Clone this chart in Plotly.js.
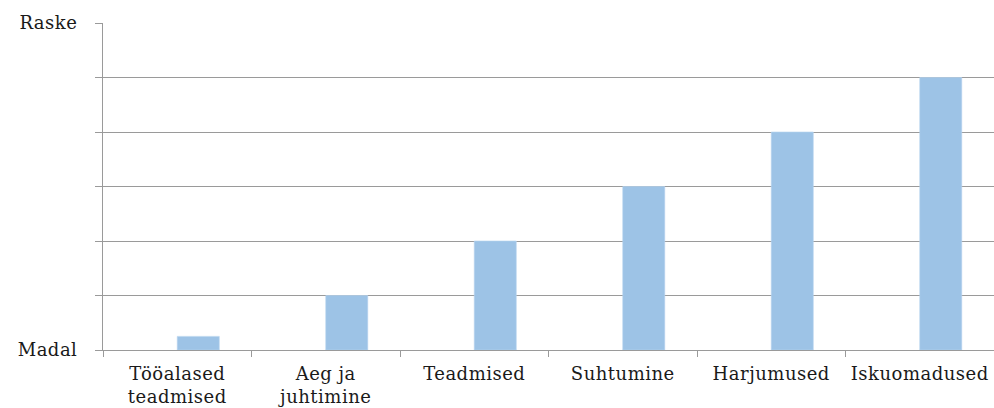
<!DOCTYPE html>
<html>
<head>
<meta charset="utf-8">
<script src="https://cdn.plot.ly/plotly-3.0.1.min.js"></script>
<style>
  html, body { margin: 0; padding: 0; background: #fff; }
  #chart { width: 994px; height: 408px; }
  .xtick text, .ytick text { letter-spacing: 0.5px; }
</style>
</head>
<body>
<div id="chart"></div>
<script>
// Categories along the x axis (line breaks for two-line labels)
const categories = [
  'Tööalased<br>teadmised',
  'Aeg ja<br>juhtimine',
  'Teadmised',
  'Suhtumine',
  'Harjumused',
  'Iskuomadused'
];

// Level of each factor on a 0–6 scale
const levels = [0.25, 1, 2, 3, 4, 5];

// Y axis: ticks at every step, only the ends are labelled
const levelTicks = [0, 1, 2, 3, 4, 5, 6];
const levelLabels = ['Madal', '', '', '', '', '', 'Raske'];

const gridGray = '#9a9a9a';
const textColor = '#1a1a1a';
const fontFamily = 'DejaVu Serif, serif';

const data = [{
  type: 'bar',
  x: categories,
  y: levels,
  width: 0.283,
  offset: 0,
  marker: { color: '#9dc3e6', line: { color: '#b7d3ee', width: 0.6 } },
  hoverinfo: 'skip'
}];

const layout = {
  width: 994,
  height: 408,
  margin: { l: 103, r: 0, t: 23, b: 58 },
  paper_bgcolor: '#ffffff',
  plot_bgcolor: '#ffffff',
  showlegend: false,
  font: { family: fontFamily, size: 18, color: textColor },
  xaxis: {
    type: 'category',
    showgrid: false,
    showline: true,
    linecolor: gridGray,
    linewidth: 1,
    ticks: 'outside',
    tickson: 'boundaries',
    ticklen: 6,
    tickcolor: gridGray,
    tickfont: { family: fontFamily, size: 18, color: textColor },
    ticklabelstandoff: 7,
    fixedrange: true
  },
  yaxis: {
    range: [0, 6],
    tickmode: 'array',
    tickvals: levelTicks,
    ticktext: levelLabels,
    showgrid: true,
    gridcolor: gridGray,
    gridwidth: 1,
    zeroline: false,
    showline: true,
    linecolor: gridGray,
    linewidth: 1,
    ticks: 'outside',
    ticklen: 7,
    tickcolor: gridGray,
    tickfont: { family: fontFamily, size: 18, color: textColor },
    ticklabelstandoff: 14,
    fixedrange: true
  }
};

Plotly.newPlot('chart', data, layout, { staticPlot: true, displayModeBar: false });
</script>
</body>
</html>
